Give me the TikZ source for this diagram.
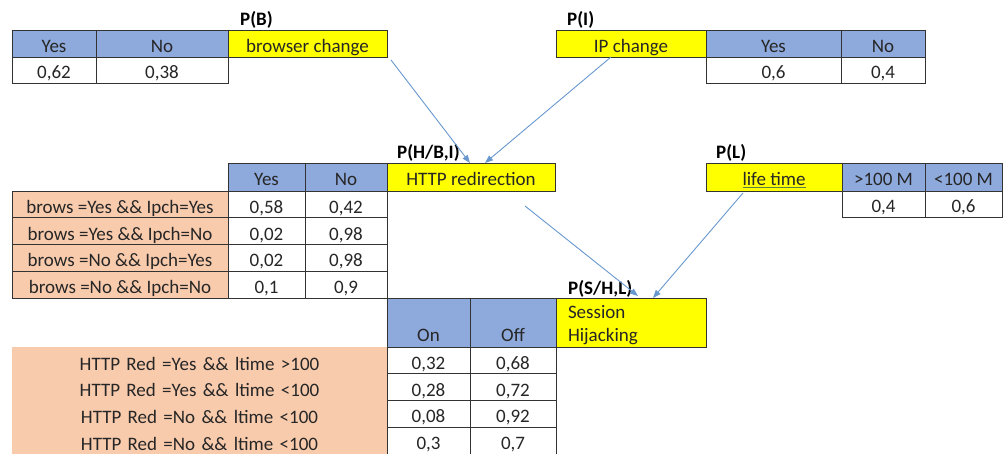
\documentclass[tikz,border=0pt]{standalone}
\usepackage{fontspec}
\setmainfont{Carlito}
\usetikzlibrary{arrows.meta,calc}
\definecolor{hdrblue}{RGB}{142,169,219}
\definecolor{keyyellow}{RGB}{255,255,0}
\definecolor{condorange}{RGB}{248,203,173}
\definecolor{linkblue}{RGB}{104,152,206}
\definecolor{inkgrey}{RGB}{38,38,38}
\definecolor{ulgreen}{RGB}{96,128,64}
\definecolor{ulblue}{RGB}{60,90,140}
\begin{document}
\begin{tikzpicture}[x=1pt,y=-1pt,
  font=\fontsize{19pt}{23pt}\selectfont, text=inkgrey,
  cell/.style={draw=black!80, line width=0.9pt, inner sep=0pt, outer sep=0pt,
    anchor=north west, text height=22pt, text depth=4pt, minimum height=27pt},
  hdr/.style={cell, fill=hdrblue},
  key/.style={cell, fill=keyyellow},
  cond/.style={cell, fill=condorange},
  val/.style={cell, fill=white},
  tag/.style={anchor=base west, inner sep=0pt,
    font=\fontsize{19pt}{23pt}\selectfont\bfseries, text=black},
  link/.style={draw=linkblue, line width=0.9pt, -{Triangle[length=8pt,width=6pt]}}
]
\useasboundingbox (0,0) rectangle (1003,454);

% P(B): browser change
\node[tag] (pb) at (240,26) {P(B)};
\node[hdr, minimum width=84pt] (bYes) at (12,30) {Yes};
\node[hdr, minimum width=132pt] (bNo) at (96,30) {No};
\node[key, minimum width=159pt] (browser) at (228,30) {browser change};
\node[val, minimum width=84pt, minimum height=26pt] (bYesV) at (12,57) {0,62};
\node[val, minimum width=132pt, minimum height=26pt] (bNoV) at (96,57) {0,38};

% P(I): IP change
\node[tag] (pi) at (567,26) {P(I)};
\node[key, minimum width=150pt] (ipchange) at (556,30) {IP change};
\node[hdr, minimum width=135pt] (iYes) at (706,30) {Yes};
\node[hdr, minimum width=84pt] (iNo) at (841,30) {No};
\node[val, minimum width=135pt, minimum height=26pt] (iYesV) at (706,57) {0,6};
\node[val, minimum width=84pt, minimum height=26pt] (iNoV) at (841,57) {0,4};

% P(H/B,I): HTTP redirection
\node[tag] (ph) at (397,159) {P(H/{\color{ulblue}\underline{\color{black}B,I}})};
\node[hdr, minimum width=77pt, minimum height=28pt] (hYes) at (228,163) {Yes};
\node[hdr, minimum width=82pt, minimum height=28pt] (hNo) at (305,163) {No};
\node[key, minimum width=168pt, minimum height=28pt] (http) at (387,163) {HTTP redirection};
\tikzset{hrow/.style={minimum height=26.75pt}}
\node[cond, hrow, minimum width=216pt] (c1) at (12,191) {brows =Yes \&\& Ipch=Yes};
\node[val, hrow, minimum width=77pt] (c1y) at (228,191) {0,58};
\node[val, hrow, minimum width=82pt] (c1n) at (305,191) {0,42};
\node[cond, hrow, minimum width=216pt] (c2) at (12,217.75) {brows =Yes \&\& Ipch=No};
\node[val, hrow, minimum width=77pt] (c2y) at (228,217.75) {0,02};
\node[val, hrow, minimum width=82pt] (c2n) at (305,217.75) {0,98};
\node[cond, hrow, minimum width=216pt] (c3) at (12,244.5) {brows =No \&\& Ipch=Yes};
\node[val, hrow, minimum width=77pt] (c3y) at (228,244.5) {0,02};
\node[val, hrow, minimum width=82pt] (c3n) at (305,244.5) {0,98};
\node[cond, hrow, minimum width=216pt] (c4) at (12,271.25) {brows =No \&\& Ipch=No};
\node[val, hrow, minimum width=77pt] (c4y) at (228,271.25) {0,1};
\node[val, hrow, minimum width=82pt] (c4n) at (305,271.25) {0,9};

% P(L): life time
\node[tag] (pl) at (716,159) {P(L)};
\node[key, minimum width=136pt, minimum height=28pt] (life) at (706,163)
  {{\color{ulgreen}\underline{\color{inkgrey}life time}}};
\node[hdr, minimum width=83pt, minimum height=28pt] (lMore) at (842,163) {>100 M};
\node[hdr, minimum width=77pt, minimum height=28pt] (lLess) at (925,163) {<100 M};
\node[val, minimum width=83pt, minimum height=26pt] (lMoreV) at (842,191) {0,4};
\node[val, minimum width=77pt, minimum height=26pt] (lLessV) at (925,191) {0,6};

% P(S/H,L): session hijacking
\node[tag] (ps) at (568,294) {P(S/{\color{ulblue}\underline{\color{black}H,L}})};
\node[hdr, minimum width=83pt, minimum height=49pt, text height=43pt, text depth=6pt] (sOn) at (387,298) {On};
\node[hdr, minimum width=86pt, minimum height=49pt, text height=43pt, text depth=6pt] (sOff) at (470,298) {Off};
\node[key, minimum width=150pt, minimum height=49pt, text width=126pt, align=left,
  text height=20pt, text depth=29pt] (session) at (556,298) {Session\\Hijacking};
\node[fill=condorange, inner sep=0pt, outer sep=0pt, anchor=north west,
  minimum width=375pt, minimum height=107pt, text width=375pt, align=center,
  text height=23pt, text depth=84pt, font=\fontsize{19pt}{26.75pt}\selectfont] (conds) at (12,347)
  {HTTP Red =Yes \&\& ltime >100\\HTTP Red =Yes \&\& ltime <100\\HTTP Red =No \&\& ltime <100\\HTTP Red =No \&\& ltime <100};
\node[val, hrow, minimum width=83pt] (s1on) at (387,347) {0,32};
\node[val, hrow, minimum width=86pt] (s1off) at (470,347) {0,68};
\node[val, hrow, minimum width=83pt] (s2on) at (387,373.75) {0,28};
\node[val, hrow, minimum width=86pt] (s2off) at (470,373.75) {0,72};
\node[val, hrow, minimum width=83pt] (s3on) at (387,400.5) {0,08};
\node[val, hrow, minimum width=86pt] (s3off) at (470,400.5) {0,92};
\node[val, hrow, minimum width=83pt] (s4on) at (387,427.25) {0,3};
\node[val, hrow, minimum width=86pt] (s4off) at (470,427.25) {0,7};

% dependency links
\draw[link] ($(browser.south east)+(4,3)$) -- ($(http.north)+(-1,0)$);
\draw[link] ($(ipchange.south)+(-20,0)$) -- ($(http.north)+(14,0)$);
\draw[link] ($(http.south)+(54,15)$) -- ($(session.north)+(7,-2)$);
\draw[link] ($(life.south)+(-31,2)$) -- ($(session.north)+(22,0)$);
\end{tikzpicture}
\end{document}
